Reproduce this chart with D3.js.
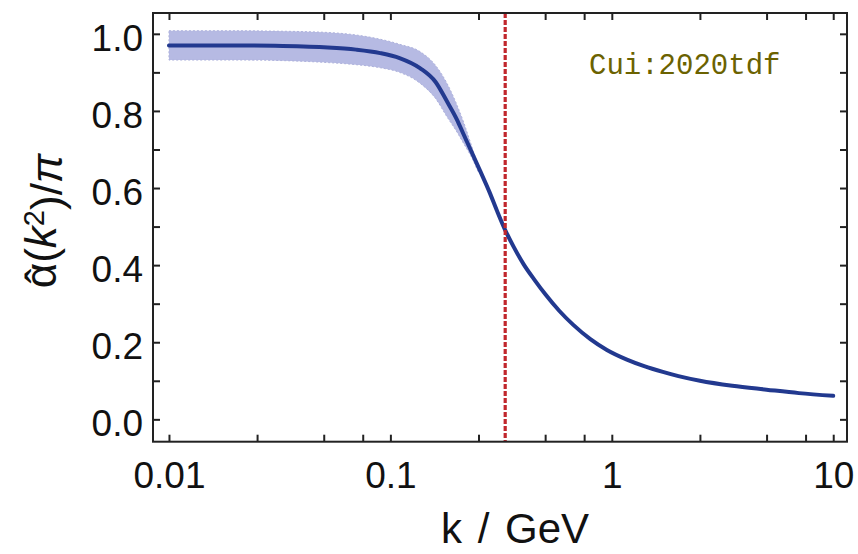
<!DOCTYPE html>
<html>
<head>
<meta charset="utf-8">
<script src="https://cdn.jsdelivr.net/npm/d3@7"></script>
<style>
  body { margin: 0; background: #fff; }
</style>
</head>
<body>
<script>
'use strict';

// central curve
const kValues = [0.01, 0.02, 0.03, 0.05, 0.07, 0.09, 0.11, 0.136, 0.16, 0.18, 0.2, 0.213, 0.23, 0.254,
  0.28, 0.302, 0.33, 0.36, 0.4, 0.45, 0.5, 0.58, 0.67, 0.8, 0.95, 1.17, 1.4, 1.7, 2.0, 2.5, 3.5, 5, 7, 10];
const alphaValues = [0.970, 0.970, 0.969, 0.965, 0.959, 0.950, 0.937, 0.911, 0.875, 0.825, 0.777, 0.742, 0.700, 0.645,
  0.590, 0.543, 0.491, 0.448, 0.402, 0.360, 0.325, 0.281, 0.245, 0.208, 0.180, 0.155, 0.138, 0.123, 0.112, 0.100, 0.087, 0.077, 0.068, 0.061];

// uncertainty band (only visible in the infrared)
const bandK = [0.01, 0.02, 0.03, 0.05, 0.07, 0.09, 0.11, 0.136, 0.16, 0.18, 0.2, 0.215, 0.23, 0.25];
const bandUpper = [1.008, 1.008, 1.007, 1.004, 0.997, 0.986, 0.973, 0.954, 0.918, 0.872, 0.815, 0.768, 0.718, 0.655];
const bandLower = [0.932, 0.932, 0.931, 0.926, 0.920, 0.912, 0.900, 0.872, 0.832, 0.785, 0.745, 0.714, 0.685, 0.640];

// reference scale (dotted line)
const kRef = 0.33;

// ticks
const xMajorTicks = [0.01, 0.1, 1, 10];
const xMinorTicks = [0.025, 0.05, 0.075, 0.25, 0.5, 0.75, 2.5, 5, 7.5];
const yMajorTicks = [0, 0.2, 0.4, 0.6, 0.8, 1.0];
const yMinorTicks = [0.1, 0.3, 0.5, 0.7, 0.9];

const annotation = "Cui:2020tdf";

(function() {

  let svg = d3.select('body').append('svg')
    .attr('width', 858)
    .attr('height', 554);

  let left = 153, right = 847, top = 13, bottom = 441.7;

  let xScale = d3.scaleLog().domain([0.00847, 11.54]).range([left, right]);
  let yScale = d3.scaleLinear().domain([-0.058, 1.054]).range([bottom, top]);

  let curve = kValues.map((k, i) => ({k: k, a: alphaValues[i]}));
  let band = bandK.map((k, i) => ({k: k, hi: bandUpper[i], lo: bandLower[i]}));

  // band
  let area = d3.area()
    .x(d => xScale(d.k))
    .y0(d => yScale(d.lo))
    .y1(d => yScale(d.hi))
    .curve(d3.curveMonotoneX);

  svg.append('path')
    .datum(band)
    .attr('d', area)
    .attr('fill', '#b6bae3')
    .attr('stroke', '#aeb2dc')
    .attr('stroke-width', 1)
    .attr('stroke-dasharray', '2,2');

  // main line
  let line = d3.line()
    .x(d => xScale(d.k))
    .y(d => yScale(d.a))
    .curve(d3.curveMonotoneX);

  svg.append('path')
    .datum(curve)
    .attr('d', line)
    .attr('fill', 'none')
    .attr('stroke', '#22398f')
    .attr('stroke-width', 4)
    .attr('stroke-linecap', 'round');

  // dotted reference line
  svg.append('line')
    .attr('x1', xScale(kRef))
    .attr('x2', xScale(kRef))
    .attr('y1', top)
    .attr('y2', bottom)
    .attr('stroke', '#c1272d')
    .attr('stroke-width', 3.2)
    .attr('stroke-dasharray', '5,2');

  drawAxes(svg, xScale, yScale);

  // frame
  svg.append('rect')
    .attr('x', left)
    .attr('y', top)
    .attr('width', right - left)
    .attr('height', bottom - top)
    .attr('fill', 'none')
    .attr('stroke', '#222')
    .attr('stroke-width', 2);

  makeLabels(svg);

  function drawAxes(svg, xScale, yScale) {
    let font = '"Liberation Sans", Arial, sans-serif';
    let tick = -7;

    // bottom, with labels
    let gb = svg.append('g')
      .attr('transform', `translate(0, ${bottom})`)
      .call(d3.axisBottom(xScale).tickValues(xMajorTicks).tickSizeInner(tick).tickSizeOuter(0)
        .tickPadding(20).tickFormat(d => d3.format('~g')(d)));
    gb.append('g')
      .call(d3.axisBottom(xScale).tickValues(xMinorTicks).tickSizeInner(tick).tickSizeOuter(0).tickFormat(''));

    // top
    let gt = svg.append('g')
      .attr('transform', `translate(0, ${top})`)
      .call(d3.axisTop(xScale).tickValues(xMajorTicks.concat(xMinorTicks)).tickSizeInner(tick).tickSizeOuter(0).tickFormat(''));

    // left, with labels
    let gl = svg.append('g')
      .attr('transform', `translate(${left}, 0)`)
      .call(d3.axisLeft(yScale).tickValues(yMajorTicks).tickSizeInner(tick).tickSizeOuter(0)
        .tickPadding(10).tickFormat(d3.format('.1f')));
    gl.append('g')
      .call(d3.axisLeft(yScale).tickValues(yMinorTicks).tickSizeInner(tick).tickSizeOuter(0).tickFormat(''));

    // right
    let gr = svg.append('g')
      .attr('transform', `translate(${right}, 0)`)
      .call(d3.axisRight(yScale).tickValues(yMajorTicks.concat(yMinorTicks)).tickSizeInner(tick).tickSizeOuter(0).tickFormat(''));

    [gb, gt, gl, gr].forEach(g => {
      g.selectAll('.domain').remove();
      g.selectAll('line').attr('stroke', '#222').attr('stroke-width', 2);
    });

    gb.selectAll('text')
      .style('font-family', font)
      .style('font-size', '37px')
      .attr('fill', '#111');

    gl.selectAll('text')
      .style('font-family', font)
      .style('font-size', '37px')
      .attr('dy', '0.44em')
      .attr('fill', '#111');
  }

  function makeLabels(svg) {
    let font = '"Liberation Sans", Arial, sans-serif';

    svg.append('text')
      .attr('x', 515)
      .attr('y', 543)
      .attr('text-anchor', 'middle')
      .style('font-family', font)
      .style('font-size', '42px')
      .style('word-spacing', '4px')
      .attr('fill', '#111')
      .text('k / GeV');

    // alpha with a hat, then (k^2)/pi
    let yl = svg.append('text')
      .attr('transform', 'translate(56, 221) rotate(-90)')
      .attr('text-anchor', 'middle')
      .style('font-family', font)
      .style('font-size', '44px')
      .attr('fill', '#111');
    yl.append('tspan').text('\u03B1');
    yl.append('tspan').attr('dx', '-0.46em').attr('dy', '0.02em').text('\u02C6');
    yl.append('tspan').attr('dx', '0.13em').attr('dy', '-0.02em').text('(');
    yl.append('tspan').style('font-style', 'italic').text('k');
    yl.append('tspan').attr('dy', '-0.42em').style('font-size', '29px').text('2');
    yl.append('tspan').attr('dy', '0.42em').text(')/');
    yl.append('tspan').style('font-style', 'italic').text('\u03C0');

    svg.append('text')
      .attr('x', 589)
      .attr('y', 74)
      .style('font-family', '"Liberation Mono", "DejaVu Sans Mono", monospace')
      .style('font-size', '29px')
      .attr('fill', '#6b6200')
      .text(annotation);
  }

})();
</script>
</body>
</html>
